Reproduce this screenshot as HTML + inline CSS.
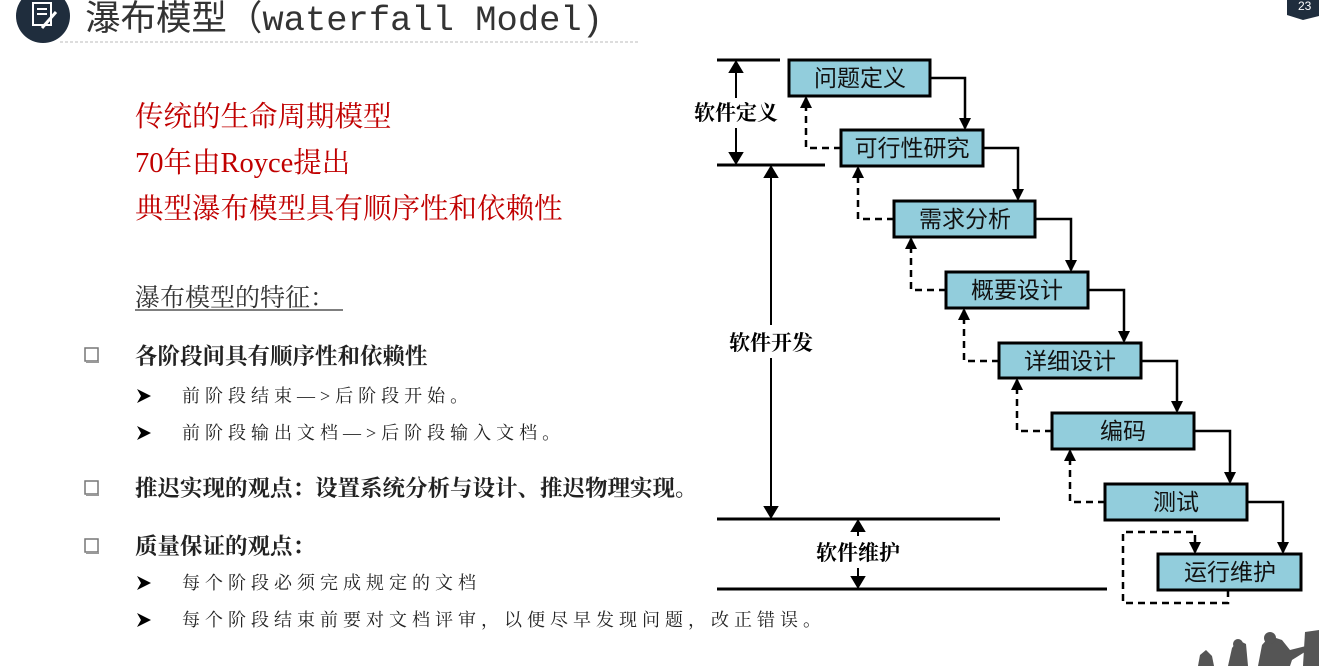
<!DOCTYPE html>
<html><head><meta charset="utf-8"><style>
html,body{margin:0;padding:0;background:#fff;}
body{width:1319px;height:666px;overflow:hidden;position:relative;}
</style></head><body>
<svg width="1319" height="666" viewBox="0 0 1319 666" xmlns="http://www.w3.org/2000/svg" style="position:absolute;left:0;top:0">
<defs>
<marker id="a" markerWidth="12" markerHeight="12" refX="10" refY="6" orient="auto" markerUnits="userSpaceOnUse" viewBox="0 0 12 12"><path d="M0,0 L12,6 L0,12 z" fill="#000"/></marker>
</defs>
<!-- header -->
<circle cx="43" cy="16" r="27" fill="#1f2d3d"/>
<rect x="33" y="3" width="18" height="22" fill="none" stroke="#fff" stroke-width="2"/>
<line x1="37" y1="9" x2="47" y2="9" stroke="#fff" stroke-width="2"/>
<line x1="37" y1="14" x2="47" y2="14" stroke="#fff" stroke-width="2"/>
<line x1="42" y1="28" x2="56" y2="12" stroke="#fff" stroke-width="3"/>
<text x="85" y="30" font-family="Liberation Mono, Noto Sans CJK SC, monospace" font-size="35" fill="#333" textLength="518" lengthAdjust="spacingAndGlyphs">瀑布模型（waterfall Model)</text>
<line x1="60" y1="42" x2="640" y2="42" stroke="#bbb" stroke-dasharray="3,2"/>
<path d="M1287,0 H1319 V16 L1303,20 L1287,15 Z" fill="#1f2d3d"/>
<text x="1298" y="10" font-family="Liberation Sans, sans-serif" font-size="12" fill="#fff">23</text>
<!-- red text -->
<g font-family="Liberation Serif, Noto Serif CJK SC, serif" font-size="28.5" fill="#c00000">
<text x="135" y="126">传统的生命周期模型</text>
<text x="135" y="172">70年由Royce提出</text>
<text x="135" y="218">典型瀑布模型具有顺序性和依赖性</text>
</g>
<text x="135" y="306" font-family="Liberation Serif, Noto Serif CJK SC, serif" font-size="25" fill="#333">瀑布模型的特征：</text>
<line x1="135" y1="310" x2="343" y2="310" stroke="#333" stroke-width="1.2"/>
<g fill="#fff" stroke="#777" stroke-width="1.5">
<rect x="85" y="348" width="13" height="13"/><rect x="85" y="481" width="13" height="13"/><rect x="85" y="539" width="13" height="13"/>
</g>
<g fill="#999"><rect x="86" y="361" width="13" height="2"/><rect x="86" y="494" width="13" height="2"/><rect x="86" y="552" width="13" height="2"/></g>
<g font-family="Liberation Serif, Noto Serif CJK SC, serif" font-size="22.5" font-weight="bold" fill="#222">
<text x="135" y="364">各阶段间具有顺序性和依赖性</text>
<text x="135" y="496">推迟实现的观点：设置系统分析与设计、推迟物理实现。</text>
<text x="135" y="554">质量保证的观点：</text>
</g>
<g font-family="Liberation Serif, Noto Serif CJK SC, serif" font-size="18" fill="#222" letter-spacing="5">
<text x="182" y="402">前阶段结束—&gt;后阶段开始。</text>
<text x="182" y="439">前阶段输出文档—&gt;后阶段输入文档。</text>
<text x="182" y="589">每个阶段必须完成规定的文档</text>
<text x="182" y="626">每个阶段结束前要对文档评审，以便尽早发现问题，改正错误。</text>
</g>
<g fill="#000">
<path d="M137,389 L151,396 L137,403 L141,396Z"/>
<path d="M137,426 L151,433 L137,440 L141,433Z"/>
<path d="M137,576 L151,583 L137,590 L141,583Z"/>
<path d="M137,613 L151,620 L137,627 L141,620Z"/>
</g>
<!-- left scale -->
<g stroke="#000" stroke-width="3" fill="none">
<line x1="717" y1="60" x2="780" y2="60"/>
<line x1="717" y1="165" x2="825" y2="165"/>
<line x1="717" y1="519" x2="1000" y2="519"/>
<line x1="717" y1="589" x2="1107" y2="589"/>
</g>
<g stroke="#000" stroke-width="2">
<line x1="736" y1="62" x2="736" y2="98"/><path d="M730,72 L736,62 L742,72Z" fill="#000"/>
<line x1="736" y1="128" x2="736" y2="163"/><path d="M730,153 L736,163 L742,153Z" fill="#000"/>
<line x1="771" y1="167" x2="771" y2="325"/><path d="M765,177 L771,167 L777,177Z" fill="#000"/>
<line x1="771" y1="358" x2="771" y2="517"/><path d="M765,507 L771,517 L777,507Z" fill="#000"/>
<line x1="858" y1="521" x2="858" y2="536"/><path d="M852,531 L858,521 L864,531Z" fill="#000"/>
<line x1="858" y1="568" x2="858" y2="587"/><path d="M852,577 L858,587 L864,577Z" fill="#000"/>
</g>
<g font-family="Liberation Serif, Noto Serif CJK SC, serif" font-size="21" font-weight="bold" fill="#000" text-anchor="middle">
<text x="736" y="120">软件定义</text>
<text x="771" y="350">软件开发</text>
<text x="858" y="560">软件维护</text>
</g>
<!-- connectors -->
<g stroke="#000" stroke-width="2.5" fill="none">
<path d="M930,78 H965 V128" marker-end="url(#a)"/>
<path d="M983,148 H1018 V199" marker-end="url(#a)"/>
<path d="M1035,219 H1071 V270" marker-end="url(#a)"/>
<path d="M1088,290 H1124 V341" marker-end="url(#a)"/>
<path d="M1141,361 H1177 V411" marker-end="url(#a)"/>
<path d="M1194,431 H1230 V482" marker-end="url(#a)"/>
<path d="M1247,502 H1283 V552" marker-end="url(#a)"/>
</g>
<g stroke="#000" stroke-width="2.5" fill="none" stroke-dasharray="7,5">
<path d="M841,148 H806 V98" marker-end="url(#a)"/>
<path d="M894,219 H858 V168" marker-end="url(#a)"/>
<path d="M946,290 H911 V239" marker-end="url(#a)"/>
<path d="M999,361 H964 V310" marker-end="url(#a)"/>
<path d="M1052,431 H1017 V380" marker-end="url(#a)"/>
<path d="M1105,502 H1070 V451" marker-end="url(#a)"/>
<path d="M1228,590 V603 H1123 V532 H1195 V552" marker-end="url(#a)"/>
</g>
<!-- boxes -->
<g fill="#92cddc" stroke="#000" stroke-width="3">
<rect x="789" y="60" width="141" height="36"/>
<rect x="841" y="130" width="142" height="36"/>
<rect x="894" y="201" width="141" height="36"/>
<rect x="946" y="272" width="142" height="36"/>
<rect x="999" y="343" width="142" height="35"/>
<rect x="1052" y="413" width="142" height="36"/>
<rect x="1105" y="484" width="142" height="36"/>
<rect x="1158" y="554" width="143" height="36"/>
</g>
<g font-family="Liberation Sans, Noto Sans CJK SC, sans-serif" font-size="23" fill="#111" text-anchor="middle">
<text x="860" y="86">问题定义</text>
<text x="912" y="156">可行性研究</text>
<text x="965" y="227">需求分析</text>
<text x="1017" y="298">概要设计</text>
<text x="1070" y="369">详细设计</text>
<text x="1123" y="439">编码</text>
<text x="1176" y="510">测试</text>
<text x="1230" y="580">运行维护</text>
</g>
<!-- silhouette -->
<g fill="#555">
<path d="M1198,666 L1200,655 L1206,650 L1212,656 L1214,666Z"/>
<path d="M1228,666 L1232,648 L1238,640 L1246,644 L1248,666Z"/>
<circle cx="1238" cy="644" r="5"/>
<path d="M1258,666 L1262,645 L1270,636 L1282,640 L1290,650 L1306,646 L1308,650 L1292,660 L1290,666Z"/>
<circle cx="1270" cy="638" r="6"/>
<path d="M1305,632 L1319,630 L1319,666 L1303,666Z"/>
</g>
</svg>
</body></html>
